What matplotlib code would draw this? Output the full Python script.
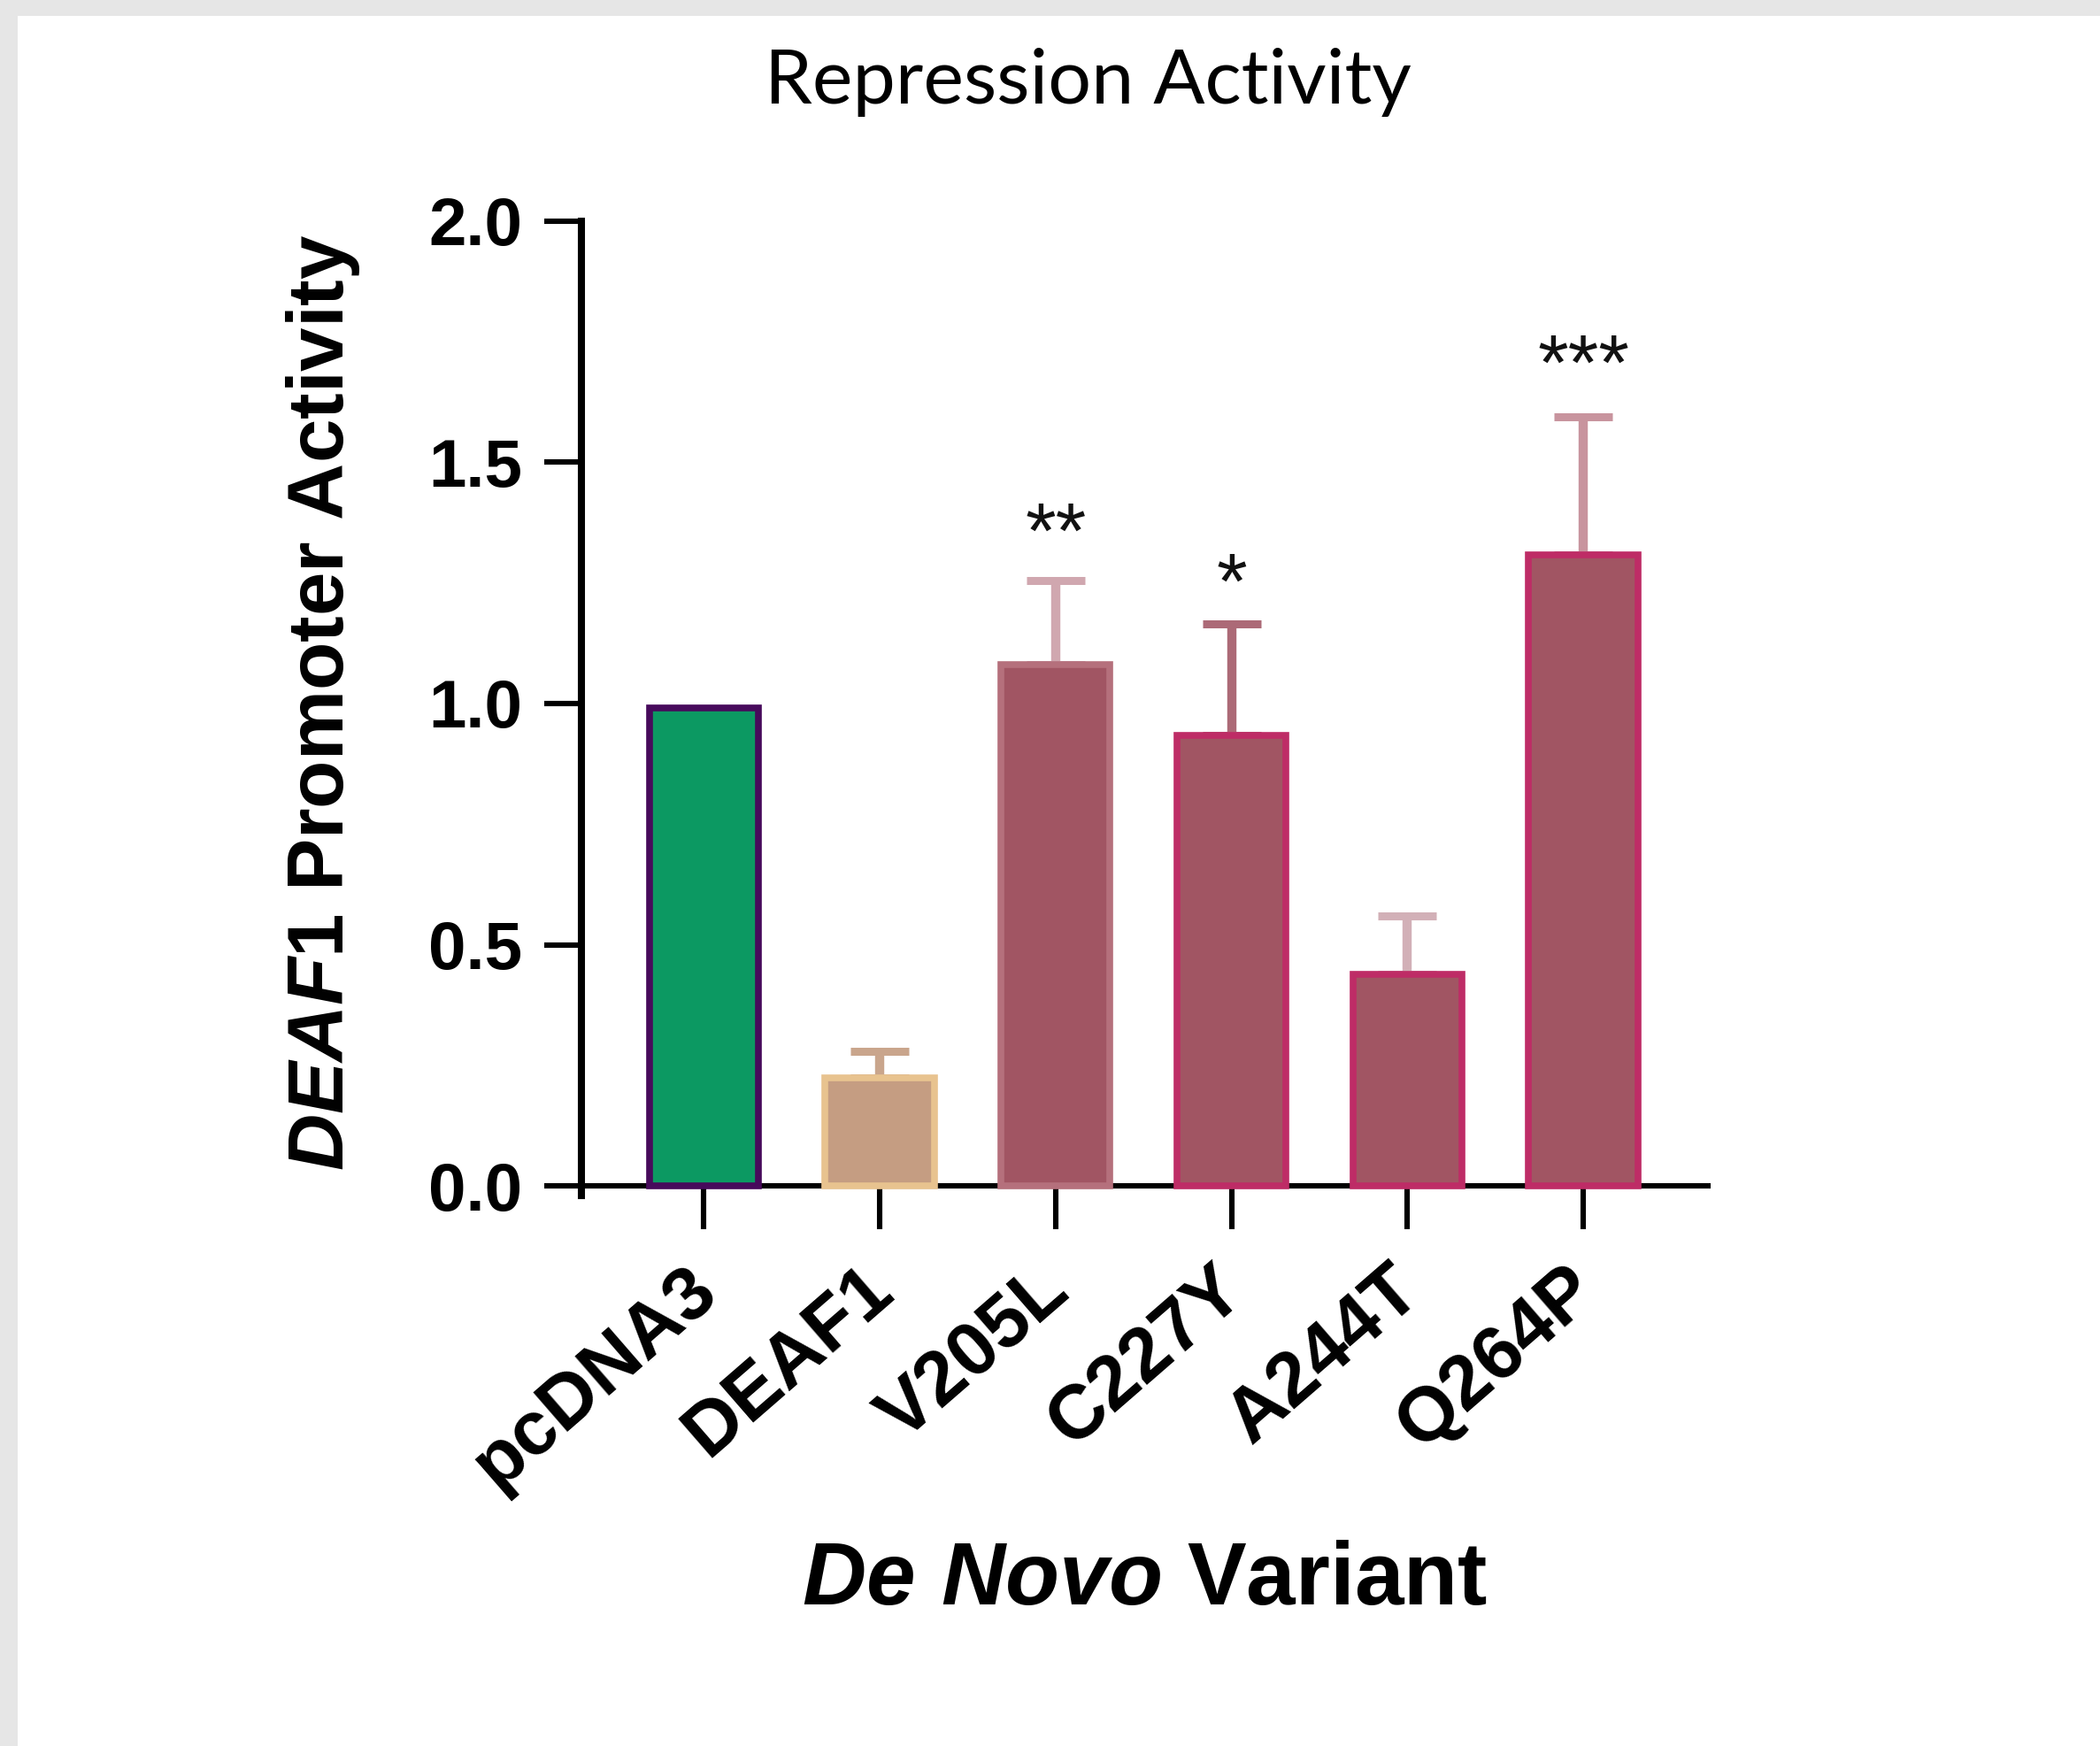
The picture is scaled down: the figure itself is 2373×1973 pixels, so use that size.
import matplotlib
matplotlib.use("Agg")
import matplotlib.pyplot as plt
from matplotlib.patches import Rectangle
from matplotlib.transforms import offset_copy, ScaledTranslation

# values
variants = ["pcDNA3", "DEAF1", "V205L", "C227Y", "A244T", "Q264P"]
activity = [0.99, 0.224, 1.081, 0.934, 0.439, 1.308]
sem_upper = [0.0, 0.055, 0.174, 0.231, 0.121, 0.287]
stars = ["", "", "**", "*", "", "***"]
star_y = [0, 0, 1.389, 1.284, 0, 1.738]

# colours
fill_colors = ["#0C9962", "#C59D82", "#A15563", "#A15563", "#A15563", "#A15563"]
edge_colors = ["#470A5B", "#E8C38F", "#B5707C", "#BE2C66", "#BE2C66", "#BE2C66"]
err_colors = ["#C59D82", "#C9A58C", "#D0A7AF", "#AC6A77", "#D2B0B7", "#C8949E"]
cap_colors = ["#C59D82", "#C8A088", "#A15563", "#B87E89", "#B87E89", "#D1A8B0"]

plt.rcParams["font.family"] = ["Liberation Sans", "DejaVu Sans"]
plt.rcParams["mathtext.fontset"] = "custom"
plt.rcParams["mathtext.it"] = "Liberation Sans:italic:bold"
plt.rcParams["mathtext.rm"] = "Liberation Sans:bold"
plt.rcParams["mathtext.bf"] = "Liberation Sans:bold"

fig = plt.figure(figsize=(23.73, 19.73), dpi=100, facecolor="white")

# grey slide border on top and left
fig.patches.append(Rectangle((0, 1 - 18 / 1973), 1, 18 / 1973, transform=fig.transFigure,
                             facecolor="#E6E6E6", edgecolor="none", zorder=0))
fig.patches.append(Rectangle((0, 0), 20 / 2373, 1, transform=fig.transFigure,
                             facecolor="#E6E6E6", edgecolor="none", zorder=0))

ax = fig.add_axes([0.2769, 0.3153, 0.5365, 0.558])

x = list(range(len(variants)))
ax.bar(x, activity, width=0.62, color=fill_colors, edgecolor=edge_colors,
       linewidth=5.5, zorder=3)

for i in x:
    if sem_upper[i] <= 0:
        continue
    eb = ax.errorbar(i, activity[i], yerr=[[0], [sem_upper[i]]], fmt="none",
                     ecolor=err_colors[i], elinewidth=7.5, capsize=24, capthick=6.5,
                     zorder=2)
    for cap in eb[1]:
        cap.set_color(cap_colors[i])

# asterisks sit a bit low relative to their text box
star_tr = offset_copy(ax.transData, fig=fig, y=-17, units="points")
for i in x:
    if stars[i]:
        ax.text(i, star_y[i], stars[i], ha="center", va="center", fontsize=64,
                color="#111111", transform=star_tr)

ax.set_xlim(-0.695, 5.71)
ax.set_ylim(-0.02, 2.0)

for s in ["top", "right"]:
    ax.spines[s].set_visible(False)
ax.spines["bottom"].set_position(("data", 0))
ax.spines["left"].set_linewidth(5.8)
ax.spines["bottom"].set_linewidth(4.4)

ax.set_yticks([0.0, 0.5, 1.0, 1.5, 2.0])
ax.set_yticklabels(["0.0", "0.5", "1.0", "1.5", "2.0"], fontsize=55,
                   fontweight="bold")
ax.set_xticks(x)
ax.set_xticklabels(variants, fontsize=62, fontweight="bold", rotation=41,
                   ha="right", rotation_mode="anchor")
ax.tick_params(axis="y", length=30, width=4.4, pad=18, colors="black")
ax.tick_params(axis="x", length=35, width=4.4, pad=20, colors="black")

shift = ScaledTranslation(-16 / 72, 0, fig.dpi_scale_trans)
for lab in ax.get_xticklabels():
    lab.set_transform(lab.get_transform() + shift)

ax.set_ylabel(r"$\mathit{DEAF1}$ Promoter Activity", fontsize=64,
              fontweight="bold")
ax.yaxis.set_label_coords(-0.195, 0.506)
ax.set_xlabel(r"$\mathit{De\ Novo}$ Variant", fontsize=72, fontweight="bold")
ax.xaxis.set_label_coords(0.5, -0.353)

fig.text(1229 / 2373, 1 - 93 / 1973, "Repression Activity", ha="center",
         va="center", fontsize=62, family=["Lato", "DejaVu Sans"])

fig.savefig("out.png", dpi=100, facecolor=fig.get_facecolor())
